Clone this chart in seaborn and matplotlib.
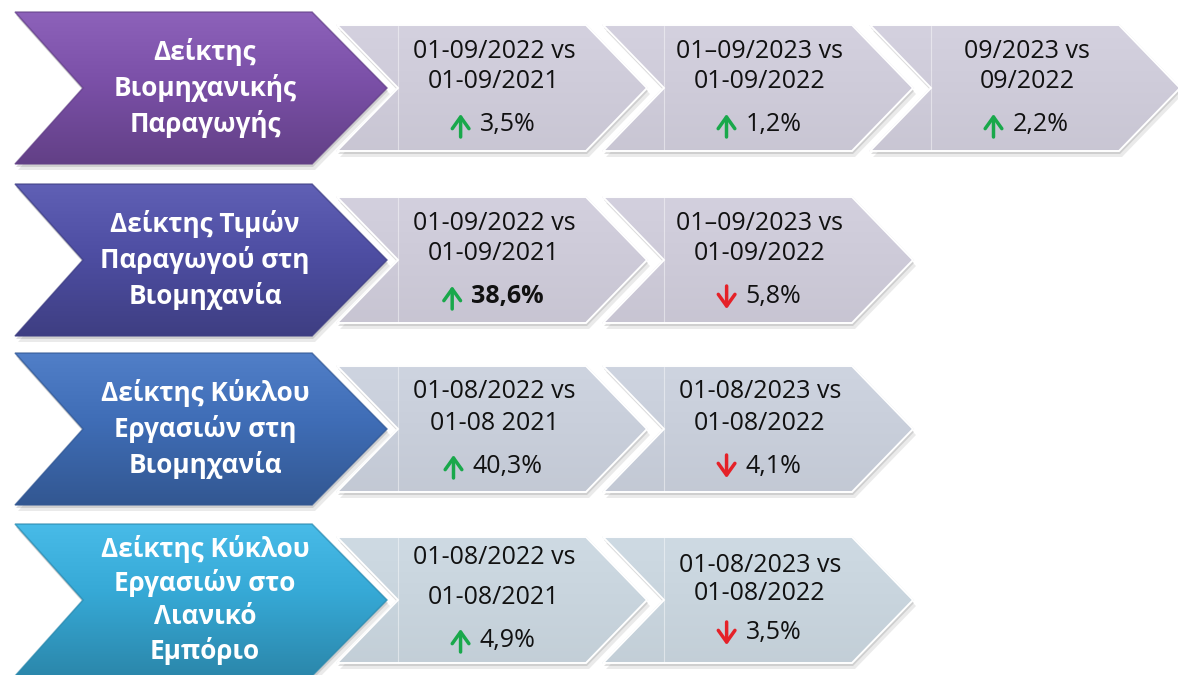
import numpy as np
import matplotlib
matplotlib.use("Agg")
import matplotlib.pyplot as plt
import matplotlib.colors as mcolors
from matplotlib.patches import Polygon
import seaborn as sns

# names of the indicators (left chevrons), one list of lines each
indicators = [
    ["Δείκτης", "Βιομηχανικής", "Παραγωγής"],
    ["Δείκτης Τιμών", "Παραγωγού στη", "Βιομηχανία"],
    ["Δείκτης Κύκλου", "Εργασιών στη", "Βιομηχανία"],
    ["Δείκτης Κύκλου", "Εργασιών στο", "Λιανικό", "Εμπόριο"],
]
# compared periods for every indicator
periods = [
    [["01-09/2022 vs", "01-09/2021"], ["01–09/2023 vs", "01-09/2022"], ["09/2023 vs", "09/2022"]],
    [["01-09/2022 vs", "01-09/2021"], ["01–09/2023 vs", "01-09/2022"]],
    [["01-08/2022 vs", "01-08 2021"], ["01-08/2023 vs", "01-08/2022"]],
    [["01-08/2022 vs", "01-08/2021"], ["01-08/2023 vs", "01-08/2022"]],
]
# percent change
changes = [[3.5, 1.2, 2.2], [38.6, -5.8], [40.3, -4.1], [4.9, -3.5]]
highlight = [[False, False, False], [True, False], [False, False], [False, False]]

head_colors = ["#7b50a8", "#4e4ea3", "#3f6db6", "#36a9d6"]
cell_colors = ["#cfccda", "#cecbd9", "#c9cfdb", "#c9d5de"]
up_color, down_color = "#19a84b", "#e52128"

sns.set_theme(style="white")
plt.rcParams["font.family"] = ["Open Sans", "DejaVu Sans"]

fig = plt.figure(figsize=(11.78, 6.75), dpi=100)
ax = fig.add_axes([0, 0, 1, 1])
W, H = 1178, 675

# layout (pixels)
row_centers = [88, 260, 429, 600]
head_h, cell_h = 76, 63
cell_x0 = [337, 603, 870]
cell_width, cell_depth = 310, 61


def chevron(x0, yc, h, width, depth, notch):
    return [(x0, yc - h), (x0 + width - depth, yc - h), (x0 + width, yc),
            (x0 + width - depth, yc + h), (x0, yc + h), (x0 + notch, yc)]


def add_shadow(pts, zorder):
    for (dx, dy, a) in [(1, 3, 0.22), (3, 6, 0.14)]:
        sh = Polygon([(x + dx, y + dy) for x, y in pts], closed=True,
                     facecolor="#6e6e6e", edgecolor="none", alpha=a, zorder=zorder)
        ax.add_patch(sh)


def gradient_fill(pts, base, zorder, lift=0.12, drop=0.78):
    poly = Polygon(pts, closed=True, facecolor=base, edgecolor="none", zorder=zorder)
    ax.add_patch(poly)
    rgb = np.array(mcolors.to_rgb(base))
    light = np.clip(rgb + lift, 0, 1)
    dark = rgb * drop
    t = np.linspace(0, 1, 128)[:, None]
    shade = np.where(t < 0.45, light + (rgb - light) * (t / 0.45),
                     rgb + (dark - rgb) * ((t - 0.45) / 0.55))
    arr = np.array(pts)
    xmin, ymin = arr.min(0)
    xmax, ymax = arr.max(0)
    im = ax.imshow(shade[:, None, :], extent=(xmin, xmax, ymax, ymin), aspect="auto",
                   interpolation="bilinear", zorder=zorder + 0.1)
    im.set_clip_path(poly)
    edge = Polygon(pts, closed=True, facecolor="none", edgecolor=dark, lw=1.2,
                   alpha=0.6, zorder=zorder + 0.2)
    ax.add_patch(edge)


renderer = fig.canvas.get_renderer()

for r, yc in enumerate(row_centers):
    # grey comparison chevrons
    for c, lines in enumerate(periods[r]):
        x0 = cell_x0[c]
        pts = chevron(x0, yc, cell_h, cell_width, cell_depth, cell_depth)
        add_shadow(pts, 1)
        gradient_fill(pts, cell_colors[r], 2, lift=0.02, drop=0.97)
        ax.add_patch(Polygon(pts, closed=True, facecolor="none", edgecolor="white",
                             lw=1.4, zorder=2.5))
        ax.plot([x0 + cell_depth, x0 + cell_depth], [yc - cell_h + 1, yc + cell_h - 1],
                color="white", lw=0.8, alpha=0.45, zorder=2.4)

        xc = x0 + cell_depth + (cell_width - 2 * cell_depth) / 2 + 2
        if (r, c) == (3, 0):
            offs = [-43, -2, 40]
        elif (r, c) == (3, 1):
            offs = [-35, -7, 33]
        else:
            offs = [-37, -6, 37]
        for line, dy in zip(lines, offs[:2]):
            ax.text(xc, yc + dy, line, ha="center", va="center", fontsize=18,
                    color="#111111", zorder=5)

        v = changes[r][c]
        label = f"{abs(v):.1f}".replace(".", ",") + "%"
        yv = yc + offs[2]
        val = ax.text(0, yv, label, ha="left", va="center", fontsize=18,
                      color="#111111", fontweight="bold" if highlight[r][c] else "normal",
                      zorder=5)
        wv = val.get_window_extent(renderer).width
        wa, gap = 16, 11
        start = xc - (wa + gap + wv) / 2
        val.set_x(start + wa + gap)
        ax_x = start + wa / 2
        tip, tail = (yv - 11, yv + 12) if v > 0 else (yv + 12, yv - 11)
        ax.annotate("", xy=(ax_x, tip), xytext=(ax_x, tail),
                    arrowprops=dict(arrowstyle="->,head_length=0.42,head_width=0.3",
                                    lw=2.5, color=up_color if v > 0 else down_color,
                                    mutation_scale=20, shrinkA=0, shrinkB=0),
                    zorder=5)

    # coloured indicator chevron
    pts = chevron(15, yc, head_h, 372, 75, 68)
    add_shadow(pts, 3)
    gradient_fill(pts, head_colors[r], 3.5, lift=0.07, drop=0.8)
    lines = indicators[r]
    step = 36 if len(lines) == 3 else 34
    for i, line in enumerate(lines):
        dy = (i - (len(lines) - 1) / 2) * step
        ax.text(205, yc + dy, line, ha="center", va="center", fontsize=18.8,
                fontweight="bold", color="white", zorder=6)

ax.set_xlim(0, W)
ax.set_ylim(H, 0)
ax.axis("off")
fig.savefig("out.png", dpi=100, facecolor="white")
